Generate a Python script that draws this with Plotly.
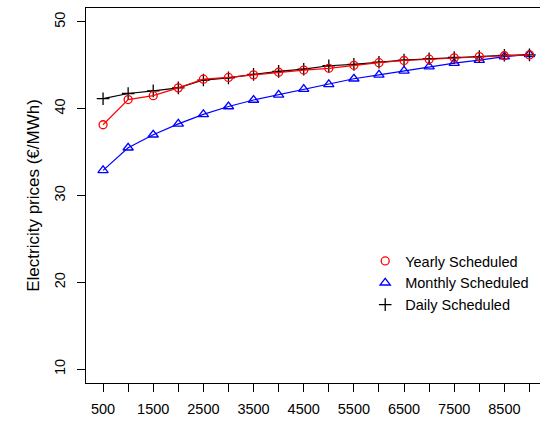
import plotly.graph_objects as go

capacity = [500, 1000, 1500, 2000, 2500, 3000, 3500, 4000, 4500,
            5000, 5500, 6000, 6500, 7000, 7500, 8000, 8500, 9000]
yearly = [38.15, 41.05, 41.5, 42.4, 43.4, 43.6, 43.9, 44.2, 44.45,
          44.65, 45.0, 45.3, 45.55, 45.7, 45.85, 46.0, 46.1, 46.2]
monthly = [32.9, 35.5, 37.0, 38.25, 39.35, 40.25, 41.0, 41.6, 42.25,
           42.8, 43.45, 43.9, 44.35, 44.85, 45.25, 45.6, 46.0, 46.25]
daily = [41.15, 41.75, 42.05, 42.4, 43.3, 43.55, 43.95, 44.3, 44.55,
         44.95, 45.1, 45.35, 45.6, 45.75, 45.9, 46.0, 46.15, 46.2]

x_tickvals = capacity
x_ticktext = ["500", "", "1500", "", "2500", "", "3500", "", "4500", "",
              "5500", "", "6500", "", "7500", "", "8500", ""]
y_tickvals = [10, 20, 30, 40, 50]

FONT = "Liberation Sans, Arial, Helvetica, sans-serif"

series = [
    ("Monthly Scheduled", monthly, "#0000FF", "triangle-up-open", 9),
    ("Daily Scheduled", daily, "#000000", "cross-thin-open", 9),
    ("Yearly Scheduled", yearly, "#FF0000", "circle-open", 8),
]

fig = go.Figure()
for name, vals, col, sym, sz in series:
    fig.add_trace(go.Scatter(
        x=capacity, y=vals, mode="lines+markers", name=name,
        line=dict(color=col, width=1.2),
        marker=dict(symbol=sym, size=sz, color=col, line=dict(color=col, width=1.3)),
        showlegend=False,
    ))

legend_order = [
    ("Yearly Scheduled", "#FF0000", "circle-open", 8),
    ("Monthly Scheduled", "#0000FF", "triangle-up-open", 9),
    ("Daily Scheduled", "#000000", "cross-thin-open", 9),
]
for name, col, sym, sz in legend_order:
    fig.add_trace(go.Scatter(
        x=[None], y=[None], mode="markers", name=name,
        marker=dict(symbol=sym, size=sz, color=col, line=dict(color=col, width=1.3)),
        showlegend=True,
    ))

fig.update_layout(
    width=540, height=424,
    margin=dict(l=86, r=0, t=8, b=41),
    paper_bgcolor="white", plot_bgcolor="white",
    font=dict(family=FONT, size=14.5, color="black"),
    showlegend=True,
    legend=dict(
        x=0.615, y=0.368, xanchor="left", yanchor="top",
        bgcolor="rgba(0,0,0,0)", borderwidth=0,
        font=dict(family=FONT, size=14.5, color="black"),
        itemwidth=30, tracegroupgap=0, traceorder="normal",
    ),
    xaxis=dict(
        range=[160, 9210], tickmode="array", tickvals=x_tickvals, ticktext=x_ticktext,
        ticks="outside", ticklen=8, tickcolor="black", tickwidth=1,
        showline=True, linecolor="black", linewidth=1, mirror=True,
        showgrid=False, zeroline=False, ticklabelstandoff=5,
        tickfont=dict(family=FONT, size=14.5, color="black"),
    ),
    yaxis=dict(
        range=[8.4, 51.6], tickmode="array", tickvals=y_tickvals,
        ticks="outside", ticklen=8, tickcolor="black", tickwidth=1,
        showline=True, linecolor="black", linewidth=1,
        showgrid=False, zeroline=False, tickangle=-90, ticklabelstandoff=6,
        tickfont=dict(family=FONT, size=14.5, color="black"),
        title=dict(text="Electricity prices (€/MWh)", standoff=8,
                   font=dict(family=FONT, size=17, color="black")),
    ),
)

fig.write_html("out.html")
